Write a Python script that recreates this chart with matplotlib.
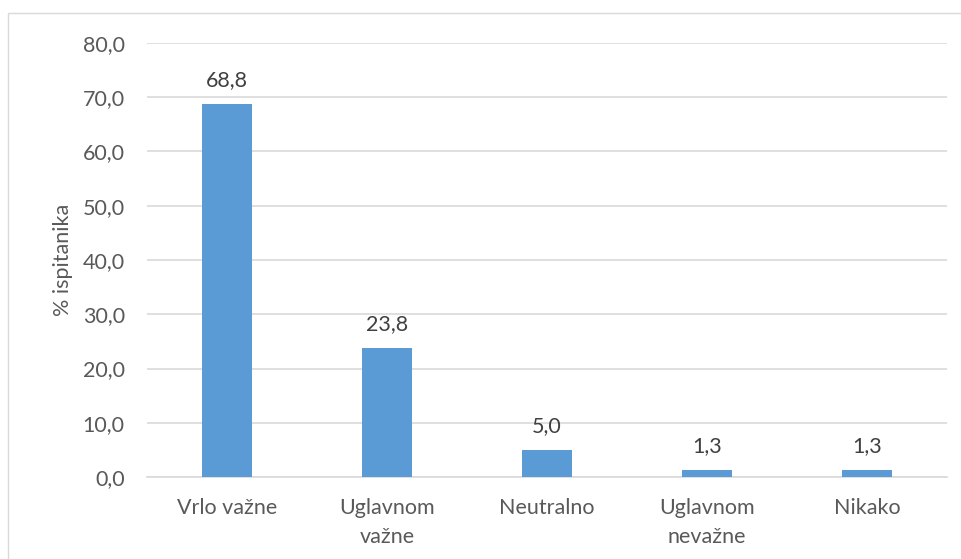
import numpy as np
import matplotlib.pyplot as plt
from matplotlib.patches import Rectangle

# ── Data ──────────────────────────────────────────────────────────────────
categories = ["Vrlo važne", "Uglavnom\nvažne", "Neutralno", "Uglavnom\nnevažne", "Nikako"]
values = [68.8, 23.8, 5.0, 1.3, 1.3]
y_ticks = [0, 10, 20, 30, 40, 50, 60, 70, 80]

BAR_COLOR = "#5B9BD5"
TEXT_COLOR = "#595959"
GRID_COLOR = "#D9D9D9"
FS = 15.5

plt.rcParams["font.family"] = ["Lato", "DejaVu Sans"]

fig = plt.figure(figsize=(9.62, 5.59), dpi=100)
ax = fig.add_axes([147 / 962, 1 - 477 / 559, 800 / 962, 434 / 559])

# chart border (partly cropped in the reference)
fig.patches.append(Rectangle((8 / 962, -0.05), 1.2, 1 - 13 / 559 + 0.05,
                             transform=fig.transFigure, fill=False,
                             edgecolor=GRID_COLOR, linewidth=1.0))

x = np.arange(len(categories))
bars = ax.bar(x, values, width=0.31, color=BAR_COLOR, zorder=3)

for xi, v in zip(x, values):
    ax.text(xi, v + 2.6, f"{v:.1f}".replace(".", ","), ha="center", va="bottom",
            fontsize=FS, color="#404040")

ax.set_xlim(-0.5, len(categories) - 0.5)
ax.set_ylim(0, 80)
ax.set_yticks(y_ticks)
ax.set_yticklabels([f"{t:.1f}".replace(".", ",") for t in y_ticks])
ax.set_xticks(x)
ax.set_xticklabels(categories, linespacing=1.55)

ax.tick_params(axis="both", length=0, labelsize=FS, labelcolor=TEXT_COLOR)
ax.tick_params(axis="y", pad=16)
ax.tick_params(axis="x", pad=15)

ax.grid(axis="y", color=GRID_COLOR, linewidth=1.2, zorder=0)
for side in ["top", "right", "left"]:
    ax.spines[side].set_visible(False)
ax.spines["bottom"].set_color(GRID_COLOR)
ax.spines["bottom"].set_linewidth(1.2)

ax.set_ylabel("% ispitanika", fontsize=FS, color=TEXT_COLOR, labelpad=7)

fig.savefig("out.png", dpi=100)
